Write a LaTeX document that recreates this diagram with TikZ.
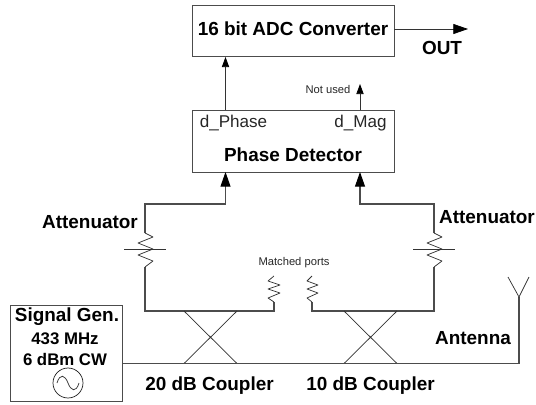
\documentclass[tikz,border=0pt]{standalone}
\usepackage{fontspec}
\setmainfont{Liberation Sans}
\usetikzlibrary{arrows.meta}
\tikzset{
  x=0.75pt,y=-0.75pt,
  wire/.style={draw=black!70,line width=0.8pt},
  thin wire/.style={draw=black!80,line width=0.55pt},
  boxn/.style={draw=black!70,line width=1pt,inner sep=0pt,minimum width=151.5pt,anchor=north west},
  big/.style={font=\fontsize{14.2}{16}\selectfont\bfseries,inner sep=0pt},
  mid/.style={font=\fontsize{12.6}{14}\selectfont\bfseries,inner sep=0pt},
  reg/.style={font=\fontsize{12.8}{14}\selectfont,inner sep=0pt,text=black!85},
  tiny/.style={font=\fontsize{8.4}{9}\selectfont,inner sep=0pt,text=black!85},
  tipS/.style={-{Triangle[length=7.5pt,width=5.4pt,fill=black,color=black]}},
  tipL/.style={-{Triangle[length=11pt,width=7.5pt,fill=black,color=black]}},
}
\begin{document}
\begin{tikzpicture}
\useasboundingbox (0,0) rectangle (536,404);
% boxes
\node[boxn,minimum height=38.25pt] (adc) at (192,5) {};
\node[boxn,minimum height=46.5pt] (pd) at (192,110) {};
\node[draw=black!70,line width=1pt,inner sep=0pt,minimum width=84pt,minimum height=72pt,anchor=north west] (gen) at (10,305) {};
\node[big] (adct) at (293,29) {16 bit ADC Converter};
\node[big] (pdt) at (293,155) {Phase Detector};
\node[reg] (dp) at (233.5,123) {d\_Phase};
\node[reg] (dm) at (360.5,123) {d\_Mag};
\node[tiny] (nu) at (328,89) {Not used};
\node[big] (out) at (442,48) {OUT};
\node[big] (sg) at (67,317) {Signal Gen.};
\node[mid] (f) at (65,339) {433 MHz};
\node[mid] (p) at (65,359) {6 dBm CW};
\node[big] (a1) at (90,222) {Attenuator};
\node[big] (a2) at (487,217) {Attenuator};
\node[big] (ant) at (473,338) {Antenna};
\node[big] (c20) at (209.5,386) {20 dB Coupler};
\node[big] (c10) at (370.5,386) {10 dB Coupler};
\node[tiny] (mp) at (294,263) {Matched ports};
% sine source
\node[draw=black!85,line width=0.55pt,circle,minimum size=22.5pt,inner sep=0pt] (src) at (68,383) {};
\draw[thin wire] (57,383) .. controls (60,373) and (65,375) .. (68,383) .. controls (71,391) and (76,393) .. (79,383);
% named points
\coordinate (pin1) at (225.5,172);
\coordinate (pin2) at (360,172);
\coordinate (pout1) at (225.5,110);
\coordinate (pout2) at (360,110);
\coordinate (adcin) at (225.5,57);
\coordinate (nuend) at (360,84);
\coordinate (adcout) at (394,29);
\coordinate (outend) at (468,29);
% arrows
\draw[thin wire,tipS] (pout1) -- (adcin);
\draw[thin wire,tipS] (pout2) -- (nuend);
\draw[thin wire,-{Triangle[length=11pt,width=7.5pt,fill=black,color=black]}] (adcout) -- (outend);
% left branch
\draw[wire,tipL] (145,233) -- (145,204) -- (225.5,204) -- (pin1);
\draw[wire] (145,267) -- (145,311) -- (274,311) -- (274,302);
\draw[thin wire,line join=round] (145,233) -- (153,237) -- (138,243) -- (153,249) -- (138,255) -- (153,261) -- (145,267);
\draw[thin wire] (124,249) -- (166,249);
\draw[thin wire,line join=round] (274,302) -- (268,298) -- (280,293) -- (268,289) -- (280,285) -- (268,281) -- (274,276);
% right branch
\draw[wire,tipL] (434,233) -- (434,204) -- (360,204) -- (pin2);
\draw[wire] (434,267) -- (434,311) -- (312,311) -- (312,302);
\draw[thin wire,line join=round] (434,233) -- (442,237) -- (427,243) -- (442,249) -- (427,255) -- (442,261) -- (434,267);
\draw[thin wire] (413,249) -- (455,249);
\draw[thin wire,line join=round] (312,302) -- (307,298) -- (318,293) -- (307,289) -- (318,285) -- (307,281) -- (312,276);
% couplers
\draw[thin wire] (184,311) -- (237,363.5) (237,311) -- (184,363.5);
\draw[thin wire] (344,311) -- (397,363.5) (397,311) -- (344,363.5);
% main line and antenna
\draw[wire] (gen.east |- 0,363.5) -- (519,363.5) -- (519,297);
\draw[thin wire,line join=miter] (508,277) -- (519,297) -- (529,277);
\end{tikzpicture}
\end{document}
